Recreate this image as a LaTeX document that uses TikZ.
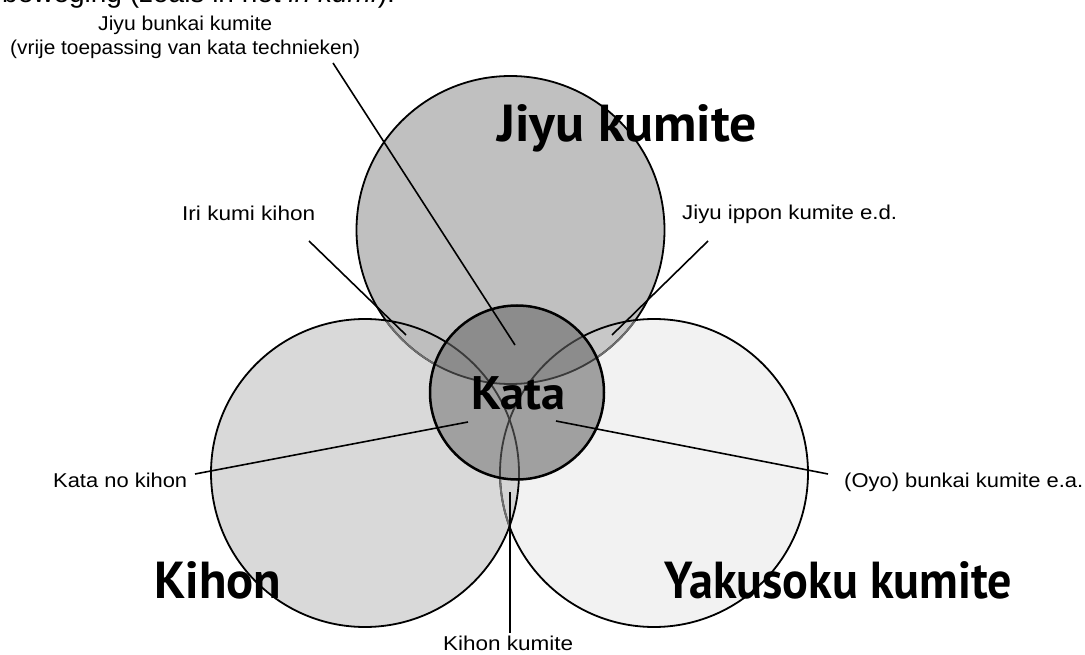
\documentclass[tikz,border=0pt]{standalone}
\usepackage{fontspec}
\setmainfont{Liberation Sans}
\newfontfamily\bigfont{PT Sans}
\usepackage{graphicx}
\newcommand\fitw[2]{\resizebox{#1}{\height}{#2}}
\definecolor{cT}{HTML}{C0C0C0}
\definecolor{cL}{HTML}{D9D9D9}
\definecolor{cR}{HTML}{F2F2F2}
\definecolor{cTR}{HTML}{C8C8C8}
\definecolor{cTL}{HTML}{BEBEBE}
\definecolor{cLR}{HTML}{D4D4D4}
\definecolor{cKup}{HTML}{8C8C8C}
\definecolor{cKlo}{HTML}{A0A0A0}
\definecolor{gUnder}{HTML}{6E6E6E}
\definecolor{gInKata}{HTML}{3A3A3A}
\def\Tc{(510.5,230) circle (154pt)}
\def\Lc{(365,473) circle (154pt)}
\def\Rc{(654,473) circle (154pt)}
\def\Kc{(517,392.5) circle (87pt)}
\begin{document}
\begin{tikzpicture}[x=1pt,y=-1pt,
  outline/.style={line width=1.8pt},
  leader/.style={line width=1.6pt, black},
  smalllab/.style={inner sep=0pt, anchor=base west, font=\fontsize{20}{22}\selectfont},
  biglab/.style={inner sep=0pt, anchor=base west, font=\bigfont\bfseries\fontsize{52}{56}\selectfont},
  katalab/.style={inner sep=0pt, anchor=base west, font=\bigfont\bfseries\fontsize{47}{50}\selectfont}]
\useasboundingbox (0,0) rectangle (1085,655);
\begin{scope}
\clip (0,0) rectangle (1085,655);
\node[inner sep=0pt, anchor=base west, font=\fontsize{28}{30}\selectfont] (head) at (2,3) {beweging (zoals in het \textit{in kumi}).};
\end{scope}
% circle fills
\fill[cR] \Rc;
\fill[cL] \Lc;
\fill[cT] \Tc;
\begin{scope}\clip \Tc; \fill[cTR] \Rc; \fill[cTL] \Lc; \end{scope}
\begin{scope}\clip \Rc; \fill[cLR] \Lc; \end{scope}
% outlines
\draw[outline] \Tc;
\begin{scope}\clip \Rc; \draw[outline, gUnder] \Tc; \end{scope}
\begin{scope}\clip \Lc; \draw[outline, gUnder] \Tc; \end{scope}
\draw[outline] \Rc;
\begin{scope}\clip \Lc; \draw[outline, gUnder] \Rc; \end{scope}
\draw[outline] \Lc;
% Kata circle
\fill[cKlo] \Kc;
\begin{scope}\clip \Kc; \fill[cKup] \Tc; \end{scope}
\begin{scope}\clip \Kc;
  \draw[outline, gInKata] \Tc;
  \draw[outline, gInKata] \Lc;
  \draw[outline, gInKata] \Rc;
\end{scope}
\draw[line width=2.5pt] \Kc;
% leader end points
\coordinate (jb-a) at (333,63);   \coordinate (jb-b) at (515,345);
\coordinate (iri-a) at (309,241); \coordinate (iri-b) at (406,335);
\coordinate (jip-a) at (708,241); \coordinate (jip-b) at (612,335);
\coordinate (kno-a) at (195,474); \coordinate (kno-b) at (468,422);
\coordinate (oyo-a) at (828,474); \coordinate (oyo-b) at (556,421);
\coordinate (kk-a) at (510,633);  \coordinate (kk-b) at (510,492);
\draw[leader] (jb-a) -- (jb-b);
\draw[leader] (iri-a) -- (iri-b);
\draw[leader] (jip-a) -- (jip-b);
\draw[leader] (kno-a) -- (kno-b);
\draw[leader] (oyo-a) -- (oyo-b);
\draw[leader] (kk-a) -- (kk-b);
% small labels
\node[smalllab] (jb1) at (98,31) {\fitw{174pt}{Jiyu bunkai kumite}};
\node[smalllab] (jb2) at (10,55) {\fitw{350pt}{(vrije toepassing van kata technieken)}};
\node[smalllab] (iri) at (182,221) {\fitw{133pt}{Iri kumi kihon}};
\node[smalllab] (jip) at (682,220) {\fitw{215pt}{Jiyu ippon kumite e.d.}};
\node[smalllab] (kno) at (53,487) {\fitw{134pt}{Kata no kihon}};
\node[smalllab] (oyo) at (844,487) {\fitw{239pt}{(Oyo) bunkai kumite e.a.}};
\node[smalllab] (kk) at (443,650) {\fitw{130pt}{Kihon kumite}};
% big labels
\node[biglab] (jk) at (497,142) {\fitw{260pt}{Jiyu kumite}};
\node[katalab] (kata) at (471,409) {\fitw{94pt}{Kata}};
\node[biglab] (kihon) at (154,598) {\fitw{127pt}{Kihon}};
\node[biglab] (yak) at (664,598) {\fitw{348pt}{Yakusoku kumite}};
\end{tikzpicture}
\end{document}
